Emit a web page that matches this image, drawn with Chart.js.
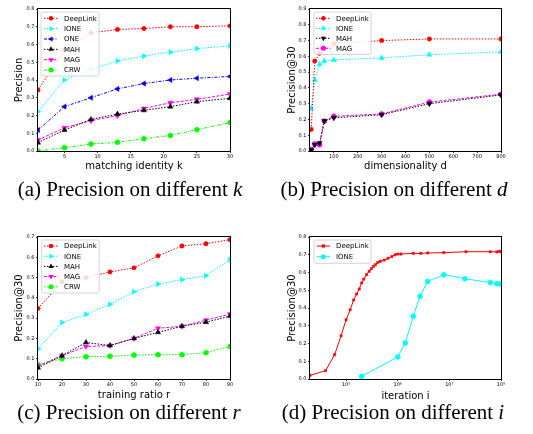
<!DOCTYPE html>
<html><head><meta charset="utf-8">
<script src="https://cdn.jsdelivr.net/npm/chart.js@4/dist/chart.umd.min.js"></script>
<style>
html,body{margin:0;padding:0;background:#fff;}
body{width:533px;height:434px;position:relative;overflow:hidden;}
canvas{position:absolute;}
.cap{position:absolute;font-family:"Liberation Serif","Times New Roman",serif;font-size:21px;line-height:20px;color:#000;white-space:nowrap;transform:translateX(-50%);}
.cap i{font-style:italic;}
</style></head><body>
<canvas id="ca" width="265" height="178" style="left:0;top:0"></canvas>
<canvas id="cb" width="268" height="178" style="left:265px;top:0"></canvas>
<canvas id="cc" width="265" height="180" style="left:0;top:225px"></canvas>
<canvas id="cd" width="268" height="180" style="left:265px;top:225px"></canvas>
<div class="cap" style="left:130px;top:179px">(a) Precision on different <i>k</i></div>
<div class="cap" style="left:394px;top:179px">(b) Precision on different <i>d</i></div>
<div class="cap" style="left:129px;top:402px">(c) Precision on different <i>r</i></div>
<div class="cap" style="left:393px;top:402px">(d) Precision on different <i>i</i></div>
<script>
// ---------- data ----------
// (a) matching identity k
const kValues = [1, 5, 9, 13, 17, 21, 25, 30];
const aDeepLink = [0.344, 0.57, 0.665, 0.685, 0.69, 0.70, 0.70, 0.705];
const aIONE = [0.222, 0.40, 0.46, 0.507, 0.535, 0.557, 0.577, 0.592];
const aONE = [0.118, 0.25, 0.30, 0.35, 0.38, 0.40, 0.41, 0.42];
const aMAH = [0.047, 0.118, 0.178, 0.208, 0.229, 0.25, 0.278, 0.297];
const aMAG = [0.062, 0.131, 0.171, 0.199, 0.24, 0.272, 0.291, 0.321];
const aCRW = [0.0, 0.019, 0.039, 0.049, 0.069, 0.088, 0.12, 0.16];
const aXTicks = [5, 10, 15, 20, 25, 30];
const aYTicks = [0, 0.1, 0.2, 0.3, 0.4, 0.5, 0.6, 0.7, 0.8];

// (b) dimensionality d
const dValues = [5, 20, 40, 60, 100, 300, 500, 800];
const bDeepLink = [0.137, 0.57, 0.62, 0.65, 0.68, 0.70, 0.71, 0.71];
const bIONE = [0.27, 0.45, 0.55, 0.57, 0.577, 0.59, 0.61, 0.628];
const bMAH = [0.006, 0.04, 0.05, 0.19, 0.21, 0.23, 0.30, 0.355];
const bMAG = [0.01, 0.045, 0.04, 0.19, 0.22, 0.235, 0.31, 0.36];
const bXTicks = [100, 200, 300, 400, 500, 600, 700, 800];
const bYTicks = [0, 0.1, 0.2, 0.3, 0.4, 0.5, 0.6, 0.7, 0.8, 0.9];

// (c) training ratio r
const rValues = [10, 20, 30, 40, 50, 60, 70, 80, 90];
const cDeepLink = [0.348, 0.48, 0.50, 0.528, 0.548, 0.607, 0.656, 0.667, 0.687];
const cIONE = [0.149, 0.278, 0.319, 0.368, 0.43, 0.468, 0.49, 0.509, 0.589];
const cMAH = [0.055, 0.115, 0.18, 0.165, 0.20, 0.23, 0.26, 0.28, 0.31];
const cMAG = [0.065, 0.115, 0.16, 0.165, 0.20, 0.25, 0.26, 0.29, 0.32];
const cCRW = [0.07, 0.10, 0.11, 0.112, 0.118, 0.12, 0.12, 0.13, 0.16];
const cXTicks = [10, 20, 30, 40, 50, 60, 70, 80, 90];
const cYTicks = [0, 0.1, 0.2, 0.3, 0.4, 0.5, 0.6, 0.7];

// (d) iteration i (log scale)
const dlIter = [2e4, 4e4, 6e4, 8e4, 1e5, 1.2e5, 1.4e5, 1.6e5, 1.8e5, 2e5, 2.2e5, 2.5e5, 2.8e5, 3.1e5, 3.4e5, 3.7e5, 4.1e5, 4.6e5, 5.5e5, 6.5e5, 7.7e5, 8.9e5, 1e6, 1.15e6, 2e6, 2.8e6, 3.8e6, 7.8e6, 2.1e7, 6.2e7, 8.3e7, 9.3e7, 1e8];
const dlPrec = [0.021, 0.047, 0.137, 0.244, 0.334, 0.39, 0.445, 0.479, 0.507, 0.541, 0.563, 0.588, 0.607, 0.622, 0.635, 0.644, 0.657, 0.663, 0.67, 0.68, 0.69, 0.70, 0.704, 0.704, 0.708, 0.708, 0.71, 0.712, 0.717, 0.717, 0.716, 0.72, 0.716];
const ioIter = [2e5, 1e6, 1.4e6, 2e6, 2.7e6, 3.8e6, 7.8e6, 2e7, 6.2e7, 8.3e7, 9.5e7];
const ioPrec = [0.015, 0.124, 0.203, 0.353, 0.466, 0.55, 0.588, 0.565, 0.543, 0.537, 0.537];
const dXTicks = [1e5, 1e6, 1e7, 1e8];
const dXTickLabels = ['10\u2075', '10\u2076', '10\u2077', '10\u2078'];
const dYTicks = [0, 0.1, 0.2, 0.3, 0.4, 0.5, 0.6, 0.7, 0.8];

// ---------- helpers ----------
const FONT = 'DejaVu Sans';
function pts(xs, ys) { return xs.map((x, i) => ({x: x, y: ys[i]})); }

function markerPath(ctx, style, rot, x, y, r) {
  ctx.beginPath();
  if (style === 'circle') {
    ctx.arc(x, y, r, 0, Math.PI * 2);
  } else if (style === 'rect') {
    ctx.rect(x - r, y - r, 2 * r, 2 * r);
  } else {
    let rad = (rot || 0) * Math.PI / 180;
    for (let k = 0; k < 3; k++) {
      const px = x + Math.sin(rad) * r, py = y - Math.cos(rad) * r;
      if (k === 0) ctx.moveTo(px, py); else ctx.lineTo(px, py);
      rad += Math.PI * 2 / 3;
    }
    ctx.closePath();
  }
}

const framePlugin = {
  id: 'frame',
  afterDraw(chart) {
    const a = chart.chartArea, c = chart.ctx;
    c.save();
    c.strokeStyle = '#000';
    c.lineWidth = 1;
    c.strokeRect(Math.round(a.left) - 0.5, Math.round(a.top) - 0.5, Math.round(a.right - a.left) + 1, Math.round(a.bottom - a.top) + 1);
    c.restore();
  }
};

const legendPlugin = {
  id: 'mplLegend',
  afterDatasetsDraw(chart, args, o) {
    if (!o || !o.box) return;
    const ctx = chart.ctx;
    const b = o.box;
    ctx.save();
    const r = 2;
    ctx.beginPath();
    ctx.moveTo(b.x + r, b.y);
    ctx.lineTo(b.x + b.w - r, b.y);
    ctx.arcTo(b.x + b.w, b.y, b.x + b.w, b.y + r, r);
    ctx.lineTo(b.x + b.w, b.y + b.h - r);
    ctx.arcTo(b.x + b.w, b.y + b.h, b.x + b.w - r, b.y + b.h, r);
    ctx.lineTo(b.x + r, b.y + b.h);
    ctx.arcTo(b.x, b.y + b.h, b.x, b.y + b.h - r, r);
    ctx.lineTo(b.x, b.y + r);
    ctx.arcTo(b.x, b.y, b.x + r, b.y, r);
    ctx.closePath();
    ctx.fillStyle = 'rgba(255,255,255,0.85)';
    ctx.fill();
    ctx.strokeStyle = '#cccccc';
    ctx.lineWidth = 0.8;
    ctx.stroke();
    chart.data.datasets.forEach((ds, i) => {
      const yy = o.firstY + i * o.rowH;
      ctx.strokeStyle = ds.borderColor;
      ctx.lineWidth = ds.borderWidth;
      ctx.setLineDash(ds.borderDash || []);
      ctx.beginPath();
      ctx.moveTo(o.lineX0, yy);
      ctx.lineTo(o.lineX1, yy);
      ctx.stroke();
      ctx.setLineDash([]);
      ctx.fillStyle = ds.pointBackgroundColor;
      markerPath(ctx, ds.pointStyle, ds.pointRotation, (o.lineX0 + o.lineX1) / 2, yy, ds.pointRadius);
      ctx.fill();
      ctx.fillStyle = '#000';
      ctx.font = o.fontSize + 'px "' + FONT + '"';
      ctx.textBaseline = 'middle';
      ctx.textAlign = 'left';
      ctx.fillText(ds.label, o.textX, yy + 0.5);
    });
    ctx.restore();
  }
};

function series(label, xs, ys, color, dash, style, rot, radius) {
  return {
    label: label,
    data: pts(xs, ys),
    borderColor: color,
    backgroundColor: color,
    borderWidth: 1,
    borderDash: dash,
    pointStyle: style,
    pointRotation: rot || 0,
    pointRadius: radius,
    pointBackgroundColor: color,
    pointBorderColor: color,
    pointBorderWidth: 0.5,
    tension: 0,
    fill: false
  };
}

function tickSetter(arr) {
  return function (scale) { scale.ticks = arr.map(v => ({value: v})); };
}

function makeChart(id, p) {
  return new Chart(document.getElementById(id), {
    type: 'line',
    data: {datasets: p.datasets},
    options: {
      responsive: false,
      animation: false,
      devicePixelRatio: 1,
      layout: {padding: p.padding},
      plugins: {
        legend: {display: false},
        tooltip: {enabled: false},
        mplLegend: p.legend
      },
      scales: {
        x: {
          type: p.xType || 'linear',
          min: p.xMin, max: p.xMax,
          afterBuildTicks: tickSetter(p.xTicks),
          afterFit: s => { s.height = p.xAxisH; },
          grid: {drawOnChartArea: false, drawTicks: true, tickLength: 2, tickColor: '#000', tickWidth: 0.8},
          border: {display: false},
          ticks: {
            autoSkip: false, maxRotation: 0, minRotation: 0, padding: 0.5, color: '#000',
            font: {family: FONT, size: 5},
            callback: p.xLabel || (v => String(v))
          },
          title: {display: true, text: p.xTitle, color: '#000', font: {family: FONT, size: 10}, padding: {top: 0, bottom: p.xTitlePad}}
        },
        y: {
          type: 'linear',
          min: 0, max: p.yMax,
          afterBuildTicks: tickSetter(p.yTicks),
          afterFit: s => { s.width = p.yAxisW; },
          grid: {drawOnChartArea: false, drawTicks: true, tickLength: 2, tickColor: '#000', tickWidth: 0.8},
          border: {display: false},
          ticks: {
            autoSkip: false, padding: 1.5, color: '#000',
            font: {family: FONT, size: 5},
            callback: v => Number(v).toFixed(1)
          },
          title: {display: true, text: p.yTitle, color: '#000', font: {family: FONT, size: 10}, padding: {top: p.yTitlePad, bottom: 0}}
        }
      }
    },
    plugins: [framePlugin, legendPlugin]
  });
}

const RED = '#ff0000', CYAN = '#00ffff', BLUE = '#0000ff', BLACK = '#000000', MAGENTA = '#ff00ff', GREEN = '#00ff00';
const DOT = [1.5, 1.5], DASHDOT = [3, 1.5, 1, 1.5], DASH = [3, 1.5];

// (a)
makeChart('ca', {
  padding: {left: 0, right: 35, top: 9, bottom: 0},
  yAxisW: 38, xAxisH: 27, yTitlePad: 13, xTitlePad: 6,
  xMin: 1, xMax: 30, xTicks: aXTicks, yMax: 0.8, yTicks: aYTicks,
  xTitle: 'matching identity k', yTitle: 'Precision',
  datasets: [
    series('DeepLink', kValues, aDeepLink, RED, DOT, 'circle', 0, 2.2),
    series('IONE', kValues, aIONE, CYAN, DOT, 'triangle', 90, 3),
    series('ONE', kValues, aONE, BLUE, DASHDOT, 'triangle', 270, 3),
    series('MAH', kValues, aMAH, BLACK, DOT, 'triangle', 0, 3),
    series('MAG', kValues, aMAG, MAGENTA, DASH, 'triangle', 180, 3),
    series('CRW', kValues, aCRW, GREEN, DASHDOT, 'circle', 0, 2.5)
  ],
  legend: {box: {x: 41, y: 12, w: 58, h: 64}, firstY: 18.3, rowH: 10.35, lineX0: 44, lineX1: 58, textX: 64, fontSize: 7}
});

// (b)
makeChart('cb', {
  padding: {left: 0, right: 32, top: 9, bottom: 0},
  yAxisW: 45, xAxisH: 27, yTitlePad: 21, xTitlePad: 6,
  xMin: 0, xMax: 800, xTicks: bXTicks, yMax: 0.9, yTicks: bYTicks,
  xTitle: 'dimensionality d', yTitle: 'Precision@30',
  datasets: [
    series('DeepLink', dValues, bDeepLink, RED, DOT, 'circle', 0, 2.2),
    series('IONE', dValues, bIONE, CYAN, DOT, 'triangle', 0, 3),
    series('MAH', dValues, bMAH, BLACK, DOT, 'triangle', 180, 3),
    series('MAG', dValues, bMAG, MAGENTA, DASH, 'circle', 0, 2.5)
  ],
  legend: {box: {x: 49, y: 12, w: 57, h: 42.5}, firstY: 18.3, rowH: 10, lineX0: 51, lineX1: 65.7, textX: 71, fontSize: 7}
});

// (c)
makeChart('cc', {
  padding: {left: 0, right: 35, top: 12, bottom: 0},
  yAxisW: 38, xAxisH: 26, yTitlePad: 13, xTitlePad: 4,
  xMin: 10, xMax: 90, xTicks: cXTicks, yMax: 0.7, yTicks: cYTicks,
  xTitle: 'training ratio r', yTitle: 'Precision@30',
  datasets: [
    series('DeepLink', rValues, cDeepLink, RED, DOT, 'circle', 0, 2.2),
    series('IONE', rValues, cIONE, CYAN, DOT, 'triangle', 90, 3),
    series('MAH', rValues, cMAH, BLACK, DOT, 'triangle', 0, 3),
    series('MAG', rValues, cMAG, MAGENTA, DASH, 'triangle', 180, 3),
    series('CRW', rValues, cCRW, GREEN, DOT, 'circle', 0, 2.5)
  ],
  legend: {box: {x: 41.7, y: 15, w: 57.6, h: 53}, firstY: 21, rowH: 10.2, lineX0: 44, lineX1: 58, textX: 64, fontSize: 7}
});

// (d)
makeChart('cd', {
  padding: {left: 0, right: 32, top: 12, bottom: 0},
  yAxisW: 45, xAxisH: 26, yTitlePad: 21, xTitlePad: 3,
  xType: 'logarithmic', xMin: 2e4, xMax: 1e8, xTicks: dXTicks,
  xLabel: (v, i) => dXTickLabels[i],
  yMax: 0.8, yTicks: dYTicks,
  xTitle: 'iteration i', yTitle: 'Precision@30',
  datasets: [
    series('DeepLink', dlIter, dlPrec, RED, [], 'rect', 0, 1.6),
    series('IONE', ioIter, ioPrec, CYAN, [], 'circle', 0, 2.5)
  ],
  legend: {box: {x: 49, y: 15, w: 57, h: 23.3}, firstY: 21, rowH: 10.7, lineX0: 51.7, lineX1: 65, textX: 71, fontSize: 7}
});
</script>
</body></html>
